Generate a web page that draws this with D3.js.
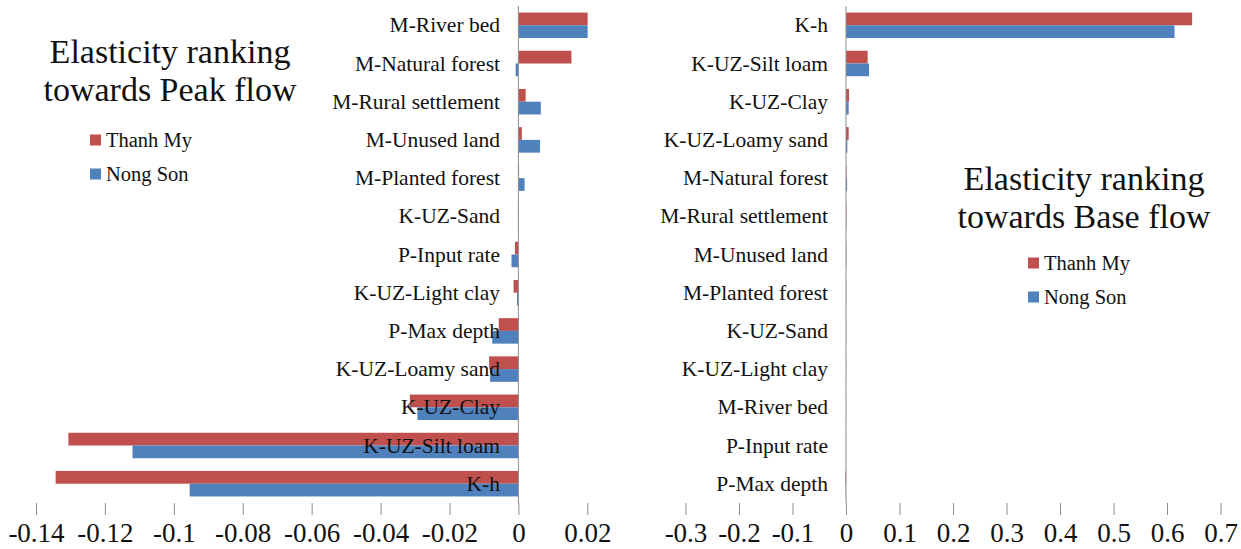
<!DOCTYPE html>
<html>
<head>
<meta charset="utf-8">
<script src="https://cdn.jsdelivr.net/npm/d3@7"></script>
<style>
  body { margin: 0; background: #fff; }
  svg text { font-family: "Liberation Serif", Tinos, "Times New Roman", "DejaVu Serif", serif; fill: #111; }
</style>
</head>
<body>
<script>
let w = 1241;
let h = 549;
const serif = '"Liberation Serif", Tinos, "Times New Roman", "DejaVu Serif", serif';

// peak flow panel (top to bottom)
const peakCategories = ["M-River bed", "M-Natural forest", "M-Rural settlement", "M-Unused land",
  "M-Planted forest", "K-UZ-Sand", "P-Input rate", "K-UZ-Light clay", "P-Max depth",
  "K-UZ-Loamy sand", "K-UZ-Clay", "K-UZ-Silt loam", "K-h"];
const peakThanhMy = [0.0201, 0.0154, 0.0021, 0.001, 0.0002, 0.0001, -0.001, -0.0014, -0.0057,
  -0.0085, -0.0315, -0.1306, -0.1343];
const peakNongSon = [0.0201, -0.0008, 0.0065, 0.0063, 0.0018, 0.0001, -0.002, -0.0004, -0.0076,
  -0.0082, -0.0293, -0.112, -0.0954];
const peakTicks = [-0.14, -0.12, -0.1, -0.08, -0.06, -0.04, -0.02, 0, 0.02];

// base flow panel (top to bottom)
const baseCategories = ["K-h", "K-UZ-Silt loam", "K-UZ-Clay", "K-UZ-Loamy sand", "M-Natural forest",
  "M-Rural settlement", "M-Unused land", "M-Planted forest", "K-UZ-Sand", "K-UZ-Light clay",
  "M-River bed", "P-Input rate", "P-Max depth"];
const baseThanhMy = [0.647, 0.0405, 0.0056, 0.005, 0.001, 0.0008, 0.0006, 0.0005, 0.0004, 0.0003,
  0.0002, 0.0001, -0.0012];
const baseNongSon = [0.614, 0.043, 0.005, 0.0025, 0.002, 0.0008, 0.0006, 0.0005, 0.0004, 0.0002,
  0.0002, 0.0001, -0.0005];
const baseTicks = [-0.3, -0.2, -0.1, 0, 0.1, 0.2, 0.3, 0.4, 0.5, 0.6, 0.7];

const seriesNames = ["Thanh My", "Nong Son"];
const colors = ["#c0504d", "#4f81bd"];

let svg = d3.select("body").append("svg").attr("width", w).attr("height", h);

function panel(opts) {
  let x = d3.scaleLinear().domain(opts.domain).range(opts.range);
  let y = d3.scaleBand().domain(opts.categories).range([6.2, 502.8])
    .paddingInner(0.333).paddingOuter(0.1665);
  let sub = d3.scaleBand().domain(seriesNames).range([0, y.bandwidth()]);
  let g = svg.append("g");

  opts.series.forEach((vals, s) => {
    g.selectAll(null)
      .data(vals)
      .enter()
      .append("rect")
      .attr("x", d => Math.min(x(0), x(d)))
      .attr("y", (d, i) => y(opts.categories[i]) + sub(seriesNames[s]))
      .attr("width", d => Math.abs(x(d) - x(0)))
      .attr("height", sub.bandwidth())
      .attr("fill", colors[s]);
  });

  // category axis line
  g.append("line")
    .attr("x1", x(0)).attr("x2", x(0))
    .attr("y1", 6).attr("y2", 503)
    .attr("stroke", "#8c8c8c").attr("stroke-width", 1);

  // category labels (drawn over bars)
  g.selectAll(null)
    .data(opts.categories)
    .enter()
    .append("text")
    .text(d => d)
    .attr("x", opts.labelX)
    .attr("y", d => y(d) + y.bandwidth() / 2)
    .attr("text-anchor", "end")
    .attr("dominant-baseline", "central")
    .style("font-family", serif)
    .style("font-size", "21.5px");

  // value axis: ticks only, no line
  let ax = g.append("g")
    .attr("transform", "translate(0,503)")
    .call(d3.axisBottom(x).tickValues(opts.ticks).tickFormat(d => String(d))
      .tickSize(12).tickPadding(8));
  ax.attr("font-family", null);
  ax.select(".domain").remove();
  ax.selectAll(".tick line").attr("stroke", "#8c8c8c");
  ax.selectAll(".tick text")
    .style("font-family", serif)
    .style("font-size", "27px")
    .attr("fill", "#111");

  // title
  let t = g.append("text")
    .attr("text-anchor", "middle")
    .style("font-family", serif)
    .style("font-size", "34px");
  t.append("tspan").attr("x", opts.titleX).attr("y", opts.titleY).text("Elasticity ranking");
  t.append("tspan").attr("x", opts.titleX).attr("y", opts.titleY + 38).text(opts.titleLine2);

  // legend
  seriesNames.forEach((name, s) => {
    let ly = opts.legendY + s * 34;
    g.append("rect")
      .attr("x", opts.legendX).attr("y", ly - 5.5)
      .attr("width", 11).attr("height", 11)
      .attr("fill", colors[s]);
    g.append("text")
      .attr("x", opts.legendX + 16).attr("y", ly)
      .attr("dominant-baseline", "central")
      .style("font-family", serif)
      .style("font-size", "20.5px")
      .text(name);
  });
}

panel({
  categories: peakCategories,
  series: [peakThanhMy, peakNongSon],
  ticks: peakTicks,
  domain: [-0.14, 0.02],
  range: [36, 587.3],
  labelX: 500,
  titleX: 170,
  titleY: 63,
  titleLine2: "towards Peak flow",
  legendX: 90,
  legendY: 140
});

panel({
  categories: baseCategories,
  series: [baseThanhMy, baseNongSon],
  ticks: baseTicks,
  domain: [-0.3, 0.7],
  range: [685.5, 1220.5],
  labelX: 828,
  titleX: 1084,
  titleY: 190,
  titleLine2: "towards Base flow",
  legendX: 1028,
  legendY: 263
});
</script>
</body>
</html>
